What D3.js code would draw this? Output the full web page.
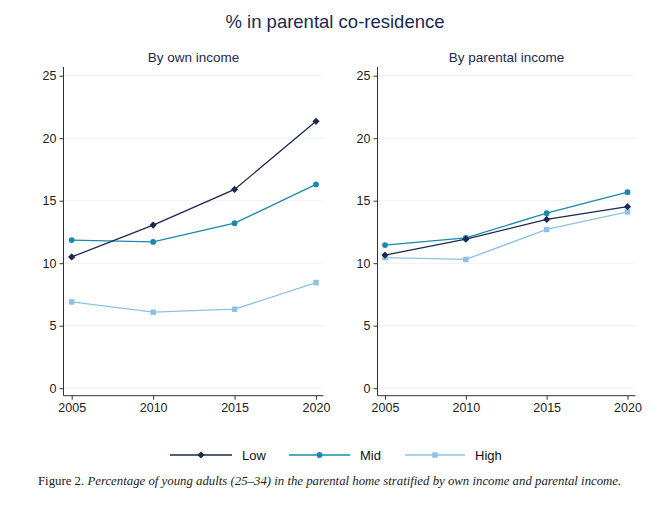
<!DOCTYPE html>
<html><head><meta charset="utf-8">
<script src="https://cdn.jsdelivr.net/npm/d3@7"></script>
<style>body{margin:0;background:#fff}</style>
</head><body>
<svg id="c" width="670" height="512"></svg>
<script>
const years = [2005, 2010, 2015, 2020];
const yTicks = [0, 5, 10, 15, 20, 25];
const seriesNames = ["Low", "Mid", "High"];
const ownLow  = [10.5, 13.05, 15.9, 21.35];
const ownMid  = [11.85, 11.7, 13.2, 16.3];
const ownHigh = [6.9, 6.08, 6.32, 8.45];
const parLow  = [10.65, 11.92, 13.5, 14.52];
const parMid  = [11.45, 12.02, 14.0, 15.68];
const parHigh = [10.45, 10.3, 12.7, 14.1];
const panelTitles = ["By own income", "By parental income"];
const mainTitle = "% in parental co-residence";

const colors = {Low:"#1b2a4e", Mid:"#1c88ad", High:"#8ec1e4"};
const svg = d3.select("#c");
const font = "Liberation Sans, Arial, sans-serif";

function marker(sel, s, cx, cy) {
  if (s === "Low") {
    sel.append("path").attr("transform", `translate(${cx},${cy}) rotate(45)`)
      .attr("d", d3.symbol().type(d3.symbolSquare).size(26)).attr("fill", colors[s]);
  } else if (s === "Mid") {
    sel.append("path").attr("transform", `translate(${cx},${cy})`)
      .attr("d", d3.symbol().type(d3.symbolCircle).size(26)).attr("fill", colors[s]);
  } else {
    sel.append("path").attr("transform", `translate(${cx},${cy})`)
      .attr("d", d3.symbol().type(d3.symbolSquare).size(30)).attr("fill", colors[s]);
  }
}

svg.append("text").attr("x", 335).attr("y", 28).attr("text-anchor","middle")
  .attr("font-family", font).attr("font-size", 18.5).attr("fill","#1b2a4e").text(mainTitle);

const panels = [
  {title: panelTitles[0], axisX: 63.5, x0: 71.7, x1: 316, gridEnd: 323.5, data: {Low: ownLow, Mid: ownMid, High: ownHigh}},
  {title: panelTitles[1], axisX: 377.5, x0: 385, x1: 627.5, gridEnd: 635.5, data: {Low: parLow, Mid: parMid, High: parHigh}}
];
const yTop = 75.7, yBot = 388.2, axisBottom = 395.7;

panels.forEach(p => {
  const g = svg.append("g");
  const x = d3.scaleLinear().domain([2005, 2020]).range([p.x0, p.x1]);
  const y = d3.scaleLinear().domain([0, 25]).range([yBot, yTop]);
  g.append("text").attr("x", (p.axisX + p.gridEnd)/2).attr("y", 62).attr("text-anchor","middle")
    .attr("font-family", font).attr("font-size", 13.5).attr("fill","#1b2a4e").text(p.title);
  g.selectAll(".grid").data(yTicks).join("line")
    .attr("x1", p.axisX).attr("x2", p.gridEnd)
    .attr("y1", d => y(d)).attr("y2", d => y(d))
    .attr("stroke", "#eef0f2").attr("stroke-width", 1);
  const ya = d3.axisLeft(y).tickValues(yTicks).tickSize(4).tickPadding(3).tickSizeOuter(0);
  const yg = g.append("g").attr("transform", `translate(${p.axisX},0)`).call(ya);
  yg.select(".domain").remove();
  g.append("line").attr("x1", p.axisX).attr("x2", p.axisX).attr("y1", 67).attr("y2", axisBottom)
    .attr("stroke", "#333").attr("stroke-width", 1);
  yg.selectAll("text").attr("font-family", font).attr("font-size", 12.5).attr("fill", "#222");
  yg.selectAll(".tick line").attr("stroke", "#333");
  const xa = d3.axisBottom(x).tickValues(years).tickFormat(d3.format("d")).tickSize(4).tickPadding(3).tickSizeOuter(0);
  const xg = g.append("g").attr("transform", `translate(0,${axisBottom})`).call(xa);
  xg.select(".domain").remove();
  g.append("line").attr("x1", p.axisX).attr("x2", p.gridEnd).attr("y1", axisBottom).attr("y2", axisBottom)
    .attr("stroke", "#333").attr("stroke-width", 1);
  xg.selectAll("text").attr("font-family", font).attr("font-size", 12.5).attr("fill", "#222");
  xg.selectAll(".tick line").attr("stroke", "#333");
  const line = d3.line().x((d,i) => x(years[i])).y(d => y(d));
  ["High","Mid","Low"].forEach(s => {
    const vals = p.data[s];
    g.append("path").attr("d", line(vals)).attr("fill","none").attr("stroke", colors[s]).attr("stroke-width", 1.3);
    vals.forEach((d,i) => marker(g, s, x(years[i]), y(d)));
  });
});

const legend = [{s:"Low", lx0:170, lx1:232, tx:242}, {s:"Mid", lx0:289, lx1:350, tx:360}, {s:"High", lx0:405, lx1:465, tx:475}];
legend.forEach(l => {
  const ly = 455;
  svg.append("line").attr("x1", l.lx0).attr("x2", l.lx1).attr("y1", ly).attr("y2", ly)
    .attr("stroke", colors[l.s]).attr("stroke-width", 1.3);
  marker(svg, l.s, (l.lx0+l.lx1)/2, ly);
  svg.append("text").attr("x", l.tx).attr("y", ly + 4.5).attr("font-family", font).attr("font-size", 13)
    .attr("fill", "#111").text(l.s);
});

const cap = svg.append("text").attr("x", 38).attr("y", 485).attr("font-family", "Liberation Serif, 'DejaVu Serif', serif")
  .attr("font-size", 12.8).attr("fill", "#222");
cap.append("tspan").text("Figure 2.  ");
cap.append("tspan").attr("font-style", "italic").text("Percentage of young adults (25–34) in the parental home stratified by own income and parental income.");
</script>
</body></html>
